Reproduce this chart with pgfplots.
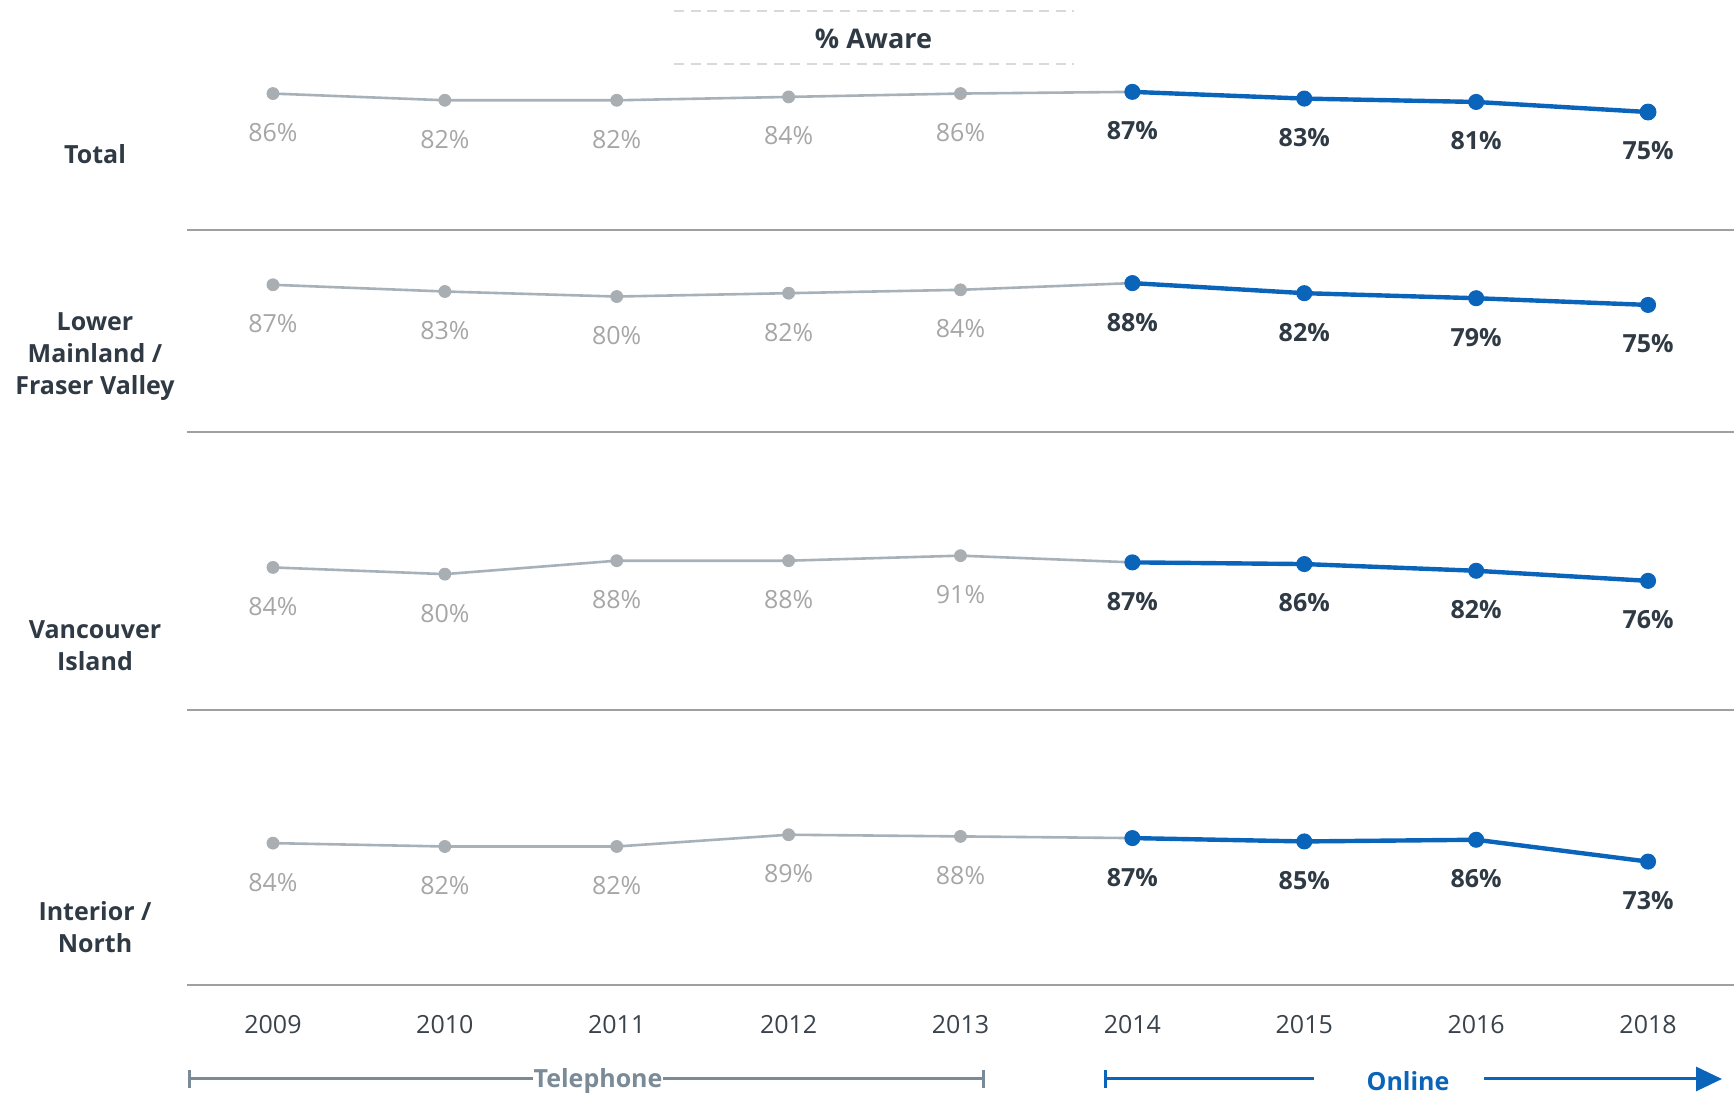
\documentclass[border=0pt]{standalone}
\usepackage{fontspec}
\setmainfont{Open Sans}
\usepackage{pgfplots}
\pgfplotsset{compat=1.18}
\usetikzlibrary{arrows.meta}
\definecolor{grayline}{HTML}{A7B1B9}
\definecolor{graymark}{HTML}{A9AEB3}
\definecolor{graylabel}{HTML}{A6A6A6}
\definecolor{blueline}{HTML}{0A64BA}
\definecolor{darktext}{HTML}{2F3A45}
\definecolor{yeartext}{HTML}{3A434C}
\definecolor{sepcol}{HTML}{A0A0A0}
\definecolor{telcol}{HTML}{7A8A97}
\definecolor{dashcol}{HTML}{D9D9D9}
\pgfplotsset{
  /pgf/number format/assume math mode=true,
  panel/.style={
    scale only axis, width=773.5pt, xmin=-0.5, xmax=8.5, clip=false,
    axis line style={draw=none}, tick style={draw=none},
    xtick=\empty, ytick=\empty, anchor=north west,
  },
  grayline/.style={color=grayline, line width=1.3pt, no marks, forget plot},
  graypts/.style={only marks, mark=*, mark size=3pt,
    mark options={draw=graymark, fill=graymark},
    nodes near coords={\pgfmathprintnumber{\pgfplotspointmeta}\%},
    nodes near coords style={font=\fontsize{12.5}{15}\selectfont, text=graylabel, anchor=center, yshift=-19.5pt}},
  bluepts/.style={color=blueline, line width=2.2pt, mark=*, mark size=2.9pt,
    mark options={draw=blueline, fill=blueline},
    nodes near coords={\pgfmathprintnumber{\pgfplotspointmeta}\%},
    nodes near coords style={font=\bfseries\fontsize{12.5}{15}\selectfont, text=darktext, anchor=center, yshift=-19.5pt}},
}
\begin{document}
\begin{tikzpicture}
\path[use as bounding box] (0,0) rectangle (868pt,547.5pt);
% title
\draw[dashcol, line width=1pt, dash pattern=on 5pt off 3.3pt] (337pt,542pt) -- (537pt,542pt);
\draw[dashcol, line width=1pt, dash pattern=on 5pt off 3.3pt] (337pt,515.5pt) -- (537pt,515.5pt);
\node[font=\bfseries\fontsize{13.5}{16}\selectfont, text=darktext] at (436.75pt,528pt) {\% Aware};
% separators
\foreach \yy in {432.5,331.5,192.5,55} {\draw[sepcol, line width=1.4pt] (93.5pt,\yy pt) -- (867pt,\yy pt);}
% row labels
\begin{scope}[every node/.style={font=\bfseries\fontsize{12.5}{16}\selectfont, text=darktext, align=center}]
\node at (47.5pt,470.5pt) {Total};
\node at (47.5pt,369.3pt) {Lower\\Mainland /\\Fraser Valley};
\node at (47.5pt,224.5pt) {Vancouver\\Island};
\node at (47.5pt,84pt) {Interior /\\North};
\end{scope}
% Panel 1: Total
\begin{axis}[panel, at={(93.5pt,547.5pt)}, height=115pt, ymin=4.80, ymax=141.70]
\addplot[grayline] coordinates {(0,86) (1,82) (2,82) (3,84) (4,86) (5,87)};
\addplot[graypts] coordinates {(0,86) (1,82) (2,82) (3,84) (4,86)};
\addplot[bluepts] coordinates {(5,87) (6,83) (7,81) (8,75)};
\addplot[only marks, mark=*, mark size=4pt, mark options={draw=blueline, fill=blueline}] coordinates {(8,75)};
\end{axis}
% Panel 2: Lower Mainland / Fraser Valley
\begin{axis}[panel, at={(93.5pt,432.5pt)}, height=101pt, ymin=-0.62, ymax=119.62]
\addplot[grayline] coordinates {(0,87) (1,83) (2,80) (3,82) (4,84) (5,88)};
\addplot[graypts] coordinates {(0,87) (1,83) (2,80) (3,82) (4,84)};
\addplot[bluepts] coordinates {(5,88) (6,82) (7,79) (8,75)};
\end{axis}
% Panel 3: Vancouver Island
\begin{axis}[panel, at={(93.5pt,331.5pt)}, height=139pt, ymin=-0.86, ymax=164.62]
\addplot[grayline] coordinates {(0,84) (1,80) (2,88) (3,88) (4,91) (5,87)};
\addplot[graypts] coordinates {(0,84) (1,80) (2,88) (3,88) (4,91)};
\addplot[bluepts] coordinates {(5,87) (6,86) (7,82) (8,76)};
\end{axis}
% Panel 4: Interior / North
\begin{axis}[panel, at={(93.5pt,192.5pt)}, height=137.5pt, ymin=-0.44, ymax=163.25,
  xtick={0,1,2,3,4,5,6,7,8},
  xticklabels={2009,2010,2011,2012,2013,2014,2015,2016,2018},
  xticklabel style={anchor=center, yshift=-20pt, font=\fontsize{12.5}{15}\selectfont, text=yeartext},
  major tick length=0pt]
\addplot[grayline] coordinates {(0,84) (1,82) (2,82) (3,89) (4,88) (5,87)};
\addplot[graypts] coordinates {(0,84) (1,82) (2,82) (3,89) (4,88)};
\addplot[bluepts] coordinates {(5,87) (6,85) (7,86) (8,73)};
\end{axis}
% Telephone bracket
\draw[telcol, line width=1.5pt] (94.5pt,3.5pt) -- (94.5pt,12.5pt);
\draw[telcol, line width=1.5pt] (491.5pt,3.5pt) -- (491.5pt,12.5pt);
\draw[telcol, line width=1.5pt] (94.5pt,8pt) -- (491.5pt,8pt);
\node[fill=white, inner xsep=0.5pt, inner ysep=1pt, font=\bfseries\fontsize{12.5}{15}\selectfont, text=telcol] at (299pt,7pt) {Telephone};
% Online arrow
\draw[blueline, line width=1.5pt] (552.5pt,3.5pt) -- (552.5pt,12.5pt);
\draw[blueline, line width=1.5pt] (552.5pt,8pt) -- (657pt,8pt);
\draw[blueline, line width=1.5pt, -{Triangle[length=13pt,width=12pt]}] (742pt,8pt) -- (861pt,8pt);
\node[font=\bfseries\fontsize{12.5}{15}\selectfont, text=blueline] at (704pt,7pt) {Online};
\end{tikzpicture}
\end{document}
